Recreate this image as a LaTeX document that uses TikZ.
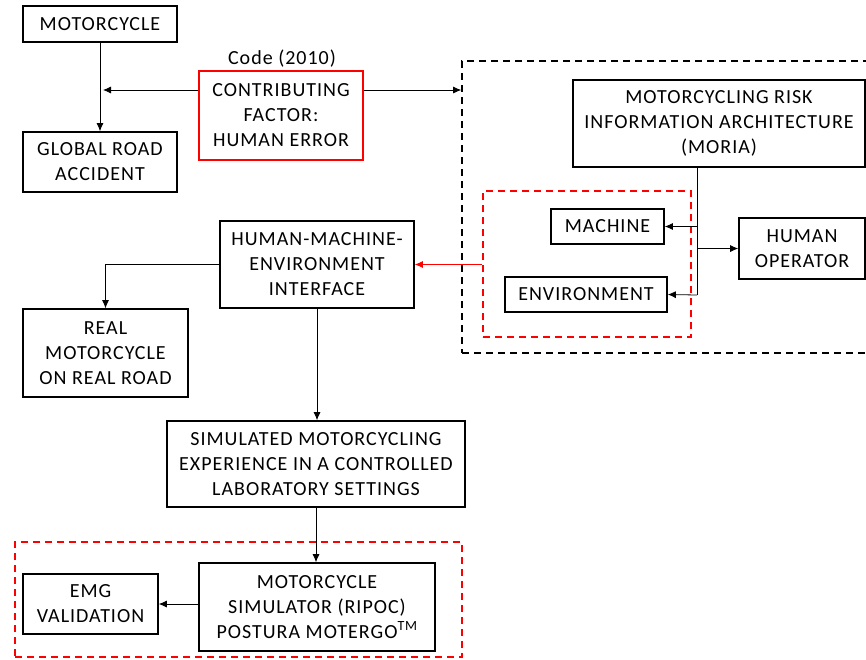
\documentclass[tikz,border=0pt]{standalone}
\usepackage{fontspec}
\setmainfont{Carlito}[LetterSpace=5]
\usetikzlibrary{arrows.meta}
\tikzset{
  box/.style={draw, line width=1.6pt, align=center, inner sep=0pt,
    font=\fontsize{20}{25}\selectfont},
  redbox/.style={box, draw=red},
  dashbox/.style={draw, line width=1.6pt, dash pattern=on 7pt off 5pt, inner sep=0pt},
  arr/.style={-{Latex[length=8pt,width=7pt]}, line width=0.8pt}
}
\begin{document}
\begin{tikzpicture}[x=1pt,y=-1pt]
  \useasboundingbox (0,0) rectangle (866,659);
  % groups
  \node[dashbox, minimum width=418, minimum height=292] (outer) at (671,207) {};
  \node[dashbox, draw=red, minimum width=208, minimum height=146] (inner) at (587,264) {};
  \node[dashbox, draw=red, minimum width=447, minimum height=115] (simgrp) at (238.5,599.5) {};
  % boxes
  \node[box, minimum width=154, minimum height=36] (motor) at (100,24) {MOTORCYCLE};
  \node[box, minimum width=154, minimum height=60] (global) at (100,162) {GLOBAL ROAD\\ACCIDENT};
  \node[redbox, minimum width=164, minimum height=89] (cf) at (281,115.5) {CONTRIBUTING\\FACTOR:\\HUMAN ERROR};
  \node[font=\fontsize{20}{22}\selectfont] (code) at (282,59) {Code (2010)};
  \node[box, minimum width=292, minimum height=87] (moria) at (719,123.5) {MOTORCYCLING RISK\\INFORMATION ARCHITECTURE\\(MORIA)};
  \node[box, minimum width=113, minimum height=35] (machine) at (607.5,226.5) {MACHINE};
  \node[box, minimum width=162, minimum height=35] (envir) at (586,294.5) {ENVIRONMENT};
  \node[box, minimum width=126, minimum height=61] (human) at (802,248.5) {HUMAN\\OPERATOR};
  \node[box, minimum width=194, minimum height=87] (hme) at (317,264.5) {HUMAN-MACHINE-\\ENVIRONMENT\\INTERFACE};
  \node[box, minimum width=165, minimum height=88] (real) at (105.5,353) {REAL\\MOTORCYCLE\\ON REAL ROAD};
  \node[box, minimum width=298, minimum height=86] (sim) at (316,464) {SIMULATED MOTORCYCLING\\EXPERIENCE IN A CONTROLLED\\LABORATORY SETTINGS};
  \node[box, minimum width=236, minimum height=88] (msim) at (317,607) {MOTORCYCLE\\SIMULATOR (RIPOC)\\POSTURA MOTERGO\textsuperscript{TM}};
  \node[box, minimum width=135, minimum height=60] (emg) at (90.5,604) {EMG\\VALIDATION};
  % connectors
  \coordinate (mid) at (103,90);
  \coordinate (trunk) at (697,295);
  \draw[arr] (motor) -- (global);
  \draw[arr] (cf.west |- mid) -- (mid);
  \draw[arr] (cf.east |- mid) -- (outer.west |- mid);
  \draw[line width=0.8pt] (moria.south -| trunk) -- (trunk);
  \draw[arr] (machine.east -| trunk) -- (machine.east);
  \draw[arr] (human.west -| trunk) -- (human.west);
  \draw[arr] (trunk) -- (envir.east);
  \draw[arr, red] (inner.west |- hme.east) -- (hme.east);
  \draw[arr] (hme.west) -| (real.north);
  \draw[arr] (hme.south) -- (hme.south |- sim.north);
  \draw[arr] (sim.south) -- (sim.south |- msim.north);
  \draw[arr] (msim.west |- emg.east) -- (emg.east);
\end{tikzpicture}
\end{document}
